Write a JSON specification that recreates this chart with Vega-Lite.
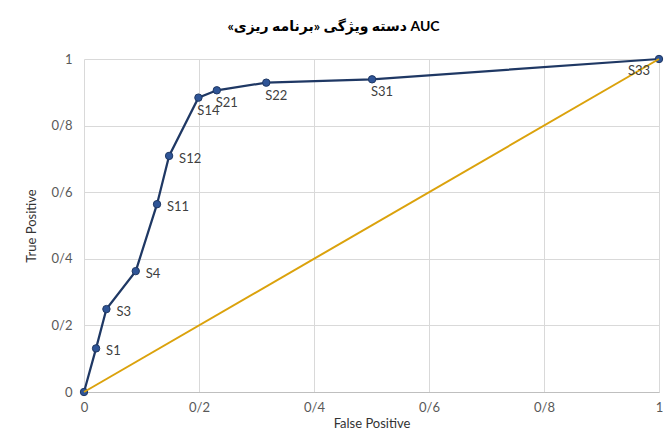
{
  "$schema": "https://vega.github.io/schema/vega-lite/v6.json",
  "width": 575,
  "height": 333,
  "autosize": {"type": "none"},
  "padding": {"left": 84, "top": 59, "right": 9, "bottom": 47},
  "background": "white",
  "title": {
    "text": "\u202BAUC دسته ویژگی «برنامه ریزی»\u202C",
    "font": "Lato, DejaVu Sans",
    "fontSize": 14,
    "fontWeight": "bold",
    "color": "#000000",
    "anchor": "middle",
    "dx": -38,
    "offset": 19
  },
  "config": {
    "view": {"stroke": null},
    "axis": {
      "labelFont": "Lato",
      "labelFontSize": 13,
      "labelColor": "#595959",
      "labelFlush": false,
      "titleFont": "Lato",
      "titleFontSize": 13,
      "titleFontWeight": "normal",
      "titleColor": "#333333",
      "gridColor": "#d9d9d9",
      "gridWidth": 1,
      "ticks": false
    }
  },
  "datasets": {
    "roc": [
      {"fpr": 0, "tpr": 0, "label": null},
      {"fpr": 0.021, "tpr": 0.131, "label": "S1"},
      {"fpr": 0.039, "tpr": 0.249, "label": "S3"},
      {"fpr": 0.09, "tpr": 0.363, "label": "S4"},
      {"fpr": 0.127, "tpr": 0.564, "label": "S11"},
      {"fpr": 0.148, "tpr": 0.709, "label": "S12"},
      {"fpr": 0.199, "tpr": 0.884, "label": "S14"},
      {"fpr": 0.231, "tpr": 0.906, "label": "S21"},
      {"fpr": 0.317, "tpr": 0.929, "label": "S22"},
      {"fpr": 0.501, "tpr": 0.939, "label": "S31"},
      {"fpr": 1, "tpr": 1, "label": "S33"}
    ],
    "diag": [
      {"fpr": 0, "tpr": 0},
      {"fpr": 1, "tpr": 1}
    ]
  },
  "encoding": {
    "x": {
      "field": "fpr",
      "type": "quantitative",
      "title": "False Positive",
      "scale": {"domain": [0, 1], "nice": false, "zero": false},
      "axis": {
        "values": [0, 0.2, 0.4, 0.6, 0.8, 1],
        "format": ".1~f",
        "labelExpr": "replace(datum.label, '.', '/')",
        "labelPadding": 9,
        "titlePadding": 3,
        "domain": true,
        "domainColor": "#bfbfbf",
        "grid": true
      }
    },
    "y": {
      "field": "tpr",
      "type": "quantitative",
      "title": "True Positive",
      "scale": {"domain": [0, 1], "nice": false, "zero": false},
      "axis": {
        "values": [0, 0.2, 0.4, 0.6, 0.8, 1],
        "format": ".1~f",
        "labelExpr": "replace(datum.label, '.', '/')",
        "labelPadding": 12,
        "titlePadding": 13,
        "domain": false,
        "grid": true
      }
    }
  },
  "layer": [
    {
      "data": {"name": "roc"},
      "mark": {"type": "line", "color": "#1F3864", "strokeWidth": 2.25},
      "encoding": {"order": {"field": "fpr", "type": "quantitative"}}
    },
    {
      "data": {"name": "roc"},
      "mark": {"type": "point", "filled": true, "fill": "#2F5597", "stroke": "#1F3864", "strokeWidth": 1, "size": 55, "opacity": 1}
    },
    {
      "data": {"name": "diag"},
      "mark": {"type": "line", "color": "#DBA20C", "strokeWidth": 2},
      "encoding": {}
    },
    {
      "data": {"name": "roc"},
      "transform": [{"filter": {"field": "label", "oneOf": ["S1", "S3", "S4", "S11", "S12"]}}],
      "mark": {"type": "text", "align": "left", "baseline": "middle", "dx": 10, "dy": 3, "font": "Lato", "fontSize": 13, "color": "#404040"},
      "encoding": {"text": {"field": "label"}}
    },
    {
      "data": {"name": "roc"},
      "transform": [{"filter": {"field": "label", "oneOf": ["S14", "S21", "S22", "S31"]}}],
      "mark": {"type": "text", "align": "center", "baseline": "middle", "dx": 10, "dy": 13, "font": "Lato", "fontSize": 13, "color": "#404040"},
      "encoding": {"text": {"field": "label"}}
    },
    {
      "data": {"name": "roc"},
      "transform": [{"filter": {"field": "label", "equal": "S33"}}],
      "mark": {"type": "text", "align": "center", "baseline": "middle", "dx": -20, "dy": 12, "font": "Lato", "fontSize": 13, "color": "#404040"},
      "encoding": {"text": {"field": "label"}}
    }
  ]
}
